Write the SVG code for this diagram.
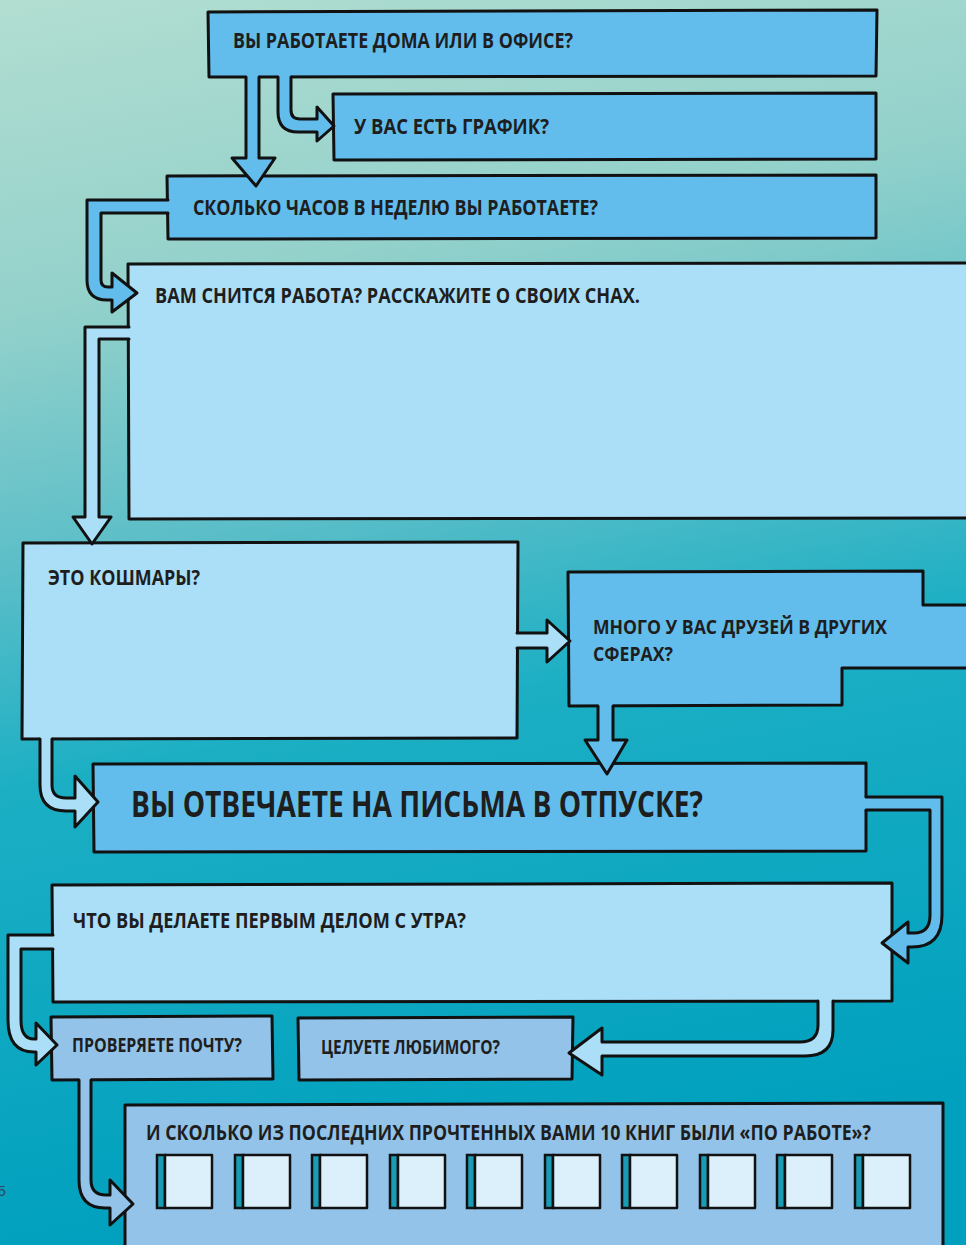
<svg xmlns="http://www.w3.org/2000/svg" width="966" height="1245" viewBox="0 0 966 1245">
<defs>
<linearGradient id="bg" x1="0" y1="0" x2="0.15" y2="1">
<stop offset="0" stop-color="#b2ded1"/>
<stop offset="0.25" stop-color="#93d1cb"/>
<stop offset="0.45" stop-color="#5bbec8"/>
<stop offset="0.62" stop-color="#1cafc4"/>
<stop offset="1" stop-color="#00a0be"/>
</linearGradient>
<style>
.box{stroke:#111;stroke-width:3;stroke-linejoin:round}
.dark{fill:#62bdec}
.light{fill:#abdff7}
.mid{fill:#93c3e8}
.line{fill:none;stroke:#111;stroke-width:3;stroke-linejoin:round;stroke-linecap:round}
.t{font-family:"Open Sans","Liberation Sans",sans-serif;font-weight:700;fill:#1e1e1e;font-size:22px}
.s{font-size:19px}
.m{font-size:20px}
.big{font-size:35px}
.spine{fill:#1a9cb5;stroke:#111;stroke-width:2.5}
.cover{fill:#dcf0fb;stroke:#111;stroke-width:2.5;stroke-linejoin:round}
</style>
</defs>
<rect x="0" y="0" width="966" height="1245" fill="url(#bg)"/>
<text x="-2" y="1196" font-family="Liberation Sans, sans-serif" font-size="14" fill="#2a4a55">5</text>

<g id="n1"><path class="box dark" d="M208,12 L877,10 L876,76 L209,77 Z"/>
<text class="t" x="233" y="48" textLength="340" lengthAdjust="spacingAndGlyphs">ВЫ РАБОТАЕТЕ ДОМА ИЛИ В ОФИСЕ?</text></g>
<g id="n2"><path class="box dark" d="M333,94 L876,93 L876,159 L334,160 Z"/>
<text class="t" x="354" y="134" textLength="195" lengthAdjust="spacingAndGlyphs">У ВАС ЕСТЬ ГРАФИК?</text></g>
<g id="n3"><path class="box dark" d="M167,176 L876,175 L876,238 L168,239 Z"/>
<text class="t" x="193" y="215" textLength="405" lengthAdjust="spacingAndGlyphs">СКОЛЬКО ЧАСОВ В НЕДЕЛЮ ВЫ РАБОТАЕТЕ?</text></g>
<g id="n4"><path class="light" d="M128,264 L966,263 L966,518 L129,519 Z"/>
<path class="line" d="M966,263 L128,264 L129,519 L966,518"/>
<text class="t" x="155" y="303" textLength="485" lengthAdjust="spacingAndGlyphs">ВАМ СНИТСЯ РАБОТА? РАССКАЖИТЕ О СВОИХ СНАХ.</text></g>
<g id="n5"><path class="box light" d="M23,543 L518,542 L517,738 L22,739 Z"/>
<text class="t" x="48" y="585" textLength="152" lengthAdjust="spacingAndGlyphs">ЭТО КОШМАРЫ?</text></g>
<g id="n6"><path class="dark" d="M568,572 L923,571 L923,605 L966,605 L966,668 L842,668 L842,705 L569,706 Z"/>
<path class="line" d="M966,605 L923,605 L923,571 L568,572 L569,706 L842,705 L842,668 L966,668"/>
<text class="t m" x="593" y="634" textLength="294" lengthAdjust="spacingAndGlyphs">МНОГО У ВАС ДРУЗЕЙ В ДРУГИХ</text>
<text class="t m" x="593" y="661" textLength="80" lengthAdjust="spacingAndGlyphs">СФЕРАХ?</text></g>
<g id="n7"><path class="box dark" d="M93,764 L866,763 L866,851 L94,852 Z"/>
<text class="t big" x="131" y="817" textLength="572" lengthAdjust="spacingAndGlyphs">ВЫ ОТВЕЧАЕТЕ НА ПИСЬМА В ОТПУСКЕ?</text></g>
<g id="n8"><path class="box light" d="M52,885 L892,883 L892,1001 L53,1002 Z"/>
<text class="t" x="73" y="928" textLength="393" lengthAdjust="spacingAndGlyphs">ЧТО ВЫ ДЕЛАЕТЕ ПЕРВЫМ ДЕЛОМ С УТРА?</text></g>
<g id="n9"><path class="box mid" d="M51,1017 L272,1016 L273,1079 L52,1080 Z"/>
<text class="t s" x="72" y="1052" textLength="170" lengthAdjust="spacingAndGlyphs">ПРОВЕРЯЕТЕ ПОЧТУ?</text></g>
<g id="n10"><path class="box mid" d="M298,1018 L573,1017 L572,1079 L299,1080 Z"/>
<text class="t s" x="321" y="1054" textLength="179" lengthAdjust="spacingAndGlyphs">ЦЕЛУЕТЕ ЛЮБИМОГО?</text></g>
<g id="n11"><path class="mid" d="M125,1105 L943,1103 L943,1245 L125,1245 Z"/>
<path class="line" d="M125,1245 L125,1105 L943,1103 L943,1245"/>
<text class="t" x="146" y="1140" font-size="18" textLength="725" lengthAdjust="spacingAndGlyphs">И СКОЛЬКО ИЗ ПОСЛЕДНИХ ПРОЧТЕННЫХ ВАМИ 10 КНИГ БЫЛИ «ПО РАБОТЕ»?</text>
<g id="books">
<rect class="spine" x="157" y="1155" width="8" height="53"/><rect class="cover" x="165" y="1155" width="47" height="53"/>
<rect class="spine" x="235" y="1155" width="8" height="53"/><rect class="cover" x="243" y="1155" width="47" height="53"/>
<rect class="spine" x="312" y="1155" width="8" height="53"/><rect class="cover" x="320" y="1155" width="47" height="53"/>
<rect class="spine" x="390" y="1155" width="8" height="53"/><rect class="cover" x="398" y="1155" width="47" height="53"/>
<rect class="spine" x="467" y="1155" width="8" height="53"/><rect class="cover" x="475" y="1155" width="47" height="53"/>
<rect class="spine" x="545" y="1155" width="8" height="53"/><rect class="cover" x="553" y="1155" width="47" height="53"/>
<rect class="spine" x="622" y="1155" width="8" height="53"/><rect class="cover" x="630" y="1155" width="47" height="53"/>
<rect class="spine" x="700" y="1155" width="8" height="53"/><rect class="cover" x="708" y="1155" width="47" height="53"/>
<rect class="spine" x="777" y="1155" width="8" height="53"/><rect class="cover" x="785" y="1155" width="47" height="53"/>
<rect class="spine" x="855" y="1155" width="8" height="53"/><rect class="cover" x="863" y="1155" width="47" height="53"/>
</g></g>

<g id="connectors">
<path class="dark" d="M246,72 L246,158 L232,158 L256,186 L275,158 L259,158 L259,72 Z"/>
<path class="line" d="M246,77 L246,158 L232,158 L256,186 L275,158 L259,158 L259,77"/>
<path class="dark" d="M278,72 L278,112 Q278,132 298,132 L317,132 L317,141 L334,126 L317,107 L317,119 L300,119 Q291,119 291,110 L291,72 Z"/>
<path class="line" d="M278,77 L278,112 Q278,132 298,132 L317,132 L317,141 L334,126 L317,107 L317,119 L300,119 Q291,119 291,110 L291,77"/>
<path class="dark" d="M172,200 L87,200 L87,280 Q87,300 107,300 L112,300 L112,312 L137,293 L112,273 L112,287 L108,287 Q101,287 101,280 L101,213 L172,213 Z"/>
<path class="line" d="M168,200 L87,200 L87,280 Q87,300 107,300 L112,300 L112,312 L137,293 L112,273 L112,287 L108,287 Q101,287 101,280 L101,213 L168,213"/>
<path class="light" d="M133,327 L85,327 L85,517 L73,517 L92,544 L111,517 L99,517 L99,339 L133,339 Z"/>
<path class="line" d="M129,327 L85,327 L85,517 L73,517 L92,544 L111,517 L99,517 L99,339 L129,339"/>
<path class="light" d="M513,633 L547,633 L547,620 L570,641 L547,662 L547,648 L513,648 Z"/>
<path class="line" d="M517,633 L547,633 L547,620 L570,641 L547,662 L547,648 L517,648"/>
<path class="dark" d="M598,701 L598,740 L585,740 L607,774 L627,740 L613,740 L613,701 Z"/>
<path class="line" d="M598,706 L598,740 L585,740 L607,774 L627,740 L613,740 L613,706"/>
<path class="light" d="M40,734 L40,785 Q40,811 66,811 L75,811 L75,827 L98,802 L75,776 L75,798 L66,798 Q52,798 52,785 L52,734 Z"/>
<path class="line" d="M40,739 L40,785 Q40,811 66,811 L75,811 L75,827 L98,802 L75,776 L75,798 L66,798 Q52,798 52,785 L52,739"/>
<path class="dark" d="M861,797 L942,797 L942,915 Q942,947 912,947 L908,947 L908,963 L882,943 L908,922 L908,933 L914,933 Q930,933 930,915 L930,810 L861,810 Z"/>
<path class="line" d="M866,797 L942,797 L942,915 Q942,947 912,947 L908,947 L908,963 L882,943 L908,922 L908,933 L914,933 Q930,933 930,915 L930,810 L866,810"/>
<path class="light" d="M57,935 L8,935 L8,1020 Q8,1052 34,1052 L36,1052 L36,1065 L57,1045 L36,1023 L36,1039 L34,1039 Q21,1039 21,1020 L21,949 L57,949 Z"/>
<path class="line" d="M53,935 L8,935 L8,1020 Q8,1052 34,1052 L36,1052 L36,1065 L57,1045 L36,1023 L36,1039 L34,1039 Q21,1039 21,1020 L21,949 L53,949"/>
<path class="light" d="M833,996 L833,1030 Q833,1056 805,1056 L602,1056 L602,1075 L569,1053 L602,1028 L602,1042 L800,1042 Q818,1042 818,1025 L818,996 Z"/>
<path class="line" d="M833,1001 L833,1030 Q833,1056 805,1056 L602,1056 L602,1075 L569,1053 L602,1028 L602,1042 L800,1042 Q818,1042 818,1025 L818,1001"/>
<path class="mid" d="M79,1075 L79,1180 Q79,1208 105,1208 L110,1208 L110,1225 L133,1204 L110,1180 L110,1195 L106,1195 Q91,1195 91,1180 L91,1075 Z"/>
<path class="line" d="M79,1080 L79,1180 Q79,1208 105,1208 L110,1208 L110,1225 L133,1204 L110,1180 L110,1195 L106,1195 Q91,1195 91,1180 L91,1080"/>
</g>
</svg>
